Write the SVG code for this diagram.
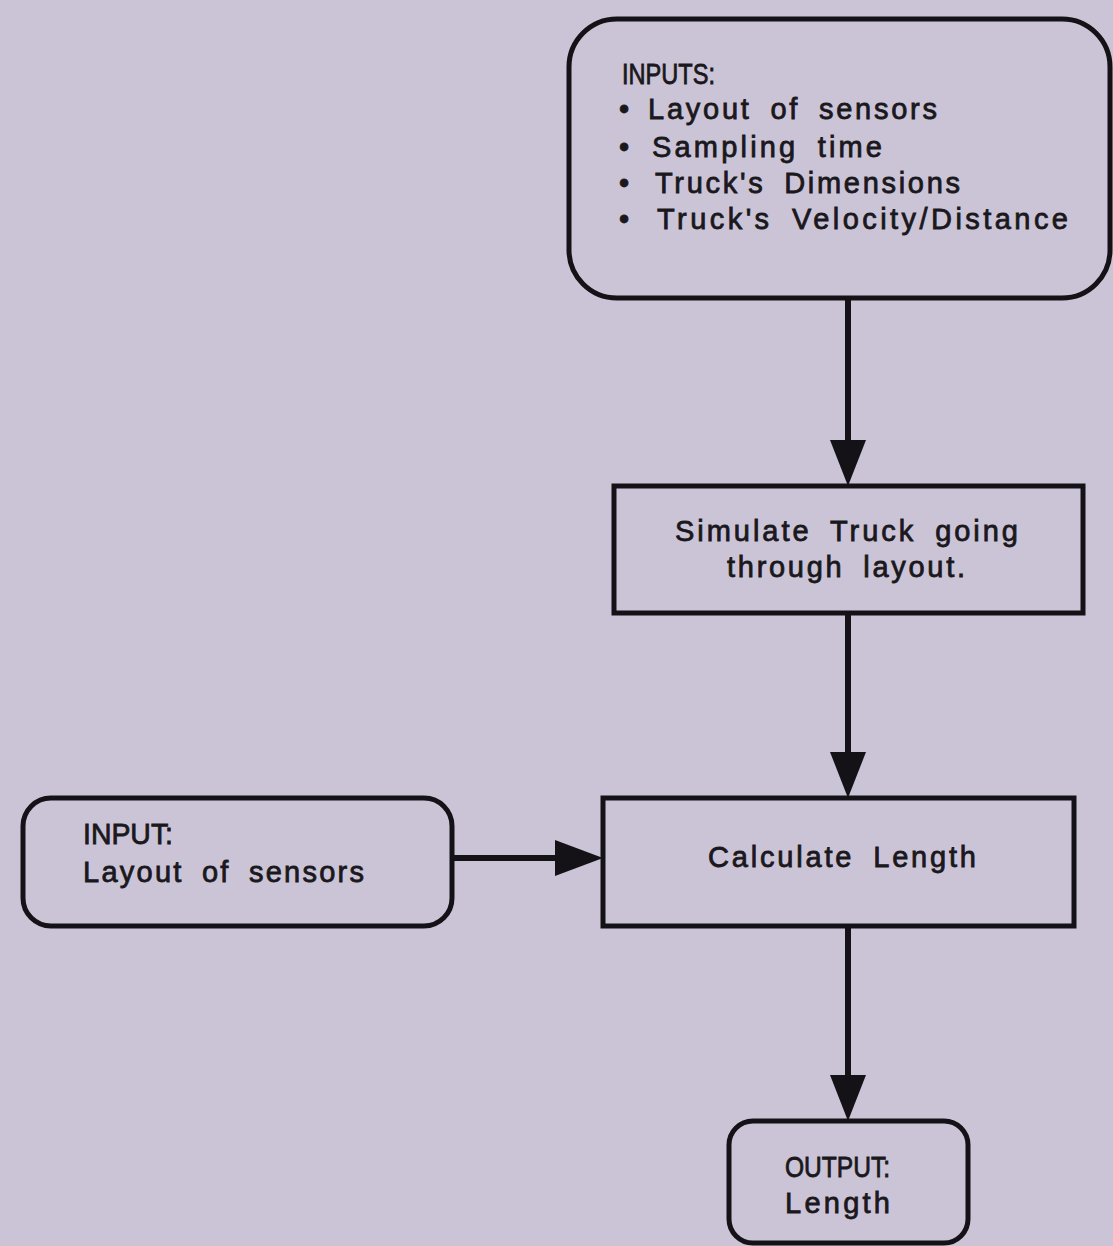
<svg xmlns="http://www.w3.org/2000/svg" width="1113" height="1246" viewBox="0 0 1113 1246">
<defs>
<style>
.box{fill:none;stroke:#141216;stroke-width:5}
.con{stroke:#141216;stroke-width:6;fill:none}
.head{fill:#141216}
text{font-family:"Liberation Sans",Arial,sans-serif;font-size:29px;fill:#1a181c;stroke:#1a181c;stroke-width:0.8;word-spacing:8px}
</style>
</defs>
<rect width="1113" height="1246" fill="#cbc4d6"/>
<g id="inputs">
<rect class="box" x="569" y="19" width="541" height="279" rx="48"/>
<text x="622" y="84" textLength="93" lengthAdjust="spacingAndGlyphs">INPUTS:</text>
<text x="619" y="119">•</text><text x="648" y="119" textLength="289" lengthAdjust="spacing">Layout of sensors</text>
<text x="619" y="157">•</text><text x="652" y="157" textLength="230" lengthAdjust="spacing">Sampling time</text>
<text x="619" y="193">•</text><text x="655" y="193" textLength="305" lengthAdjust="spacing">Truck's Dimensions</text>
<text x="619" y="229">•</text><text x="657" y="229" textLength="411" lengthAdjust="spacing">Truck's Velocity/Distance</text>
</g>
<g id="simulate">
<rect class="box" x="614" y="486" width="469" height="127"/>
<text x="675" y="541" textLength="343" lengthAdjust="spacing">Simulate Truck going</text>
<text x="727" y="577" textLength="238" lengthAdjust="spacing">through layout.</text>
</g>
<g id="input">
<rect class="box" x="23" y="798" width="429" height="128" rx="28"/>
<text x="83" y="844" textLength="90" lengthAdjust="spacingAndGlyphs">INPUT:</text>
<text x="83" y="882" textLength="281" lengthAdjust="spacing">Layout of sensors</text>
</g>
<g id="calculate">
<rect class="box" x="603" y="798" width="471" height="128"/>
<text x="708" y="867" textLength="268" lengthAdjust="spacing">Calculate Length</text>
</g>
<g id="output">
<rect class="box" x="729" y="1121" width="239" height="122" rx="24"/>
<text x="785" y="1177" textLength="105" lengthAdjust="spacingAndGlyphs">OUTPUT:</text>
<text x="785" y="1213" textLength="105" lengthAdjust="spacing">Length</text>
</g>
<g id="connectors">
<line class="con" x1="848" y1="298" x2="848" y2="445"/>
<polygon class="head" points="830,440 866,440 848,486"/>
<line class="con" x1="848" y1="613" x2="848" y2="757"/>
<polygon class="head" points="830,752 866,752 848,798"/>
<line class="con" x1="452" y1="858" x2="560" y2="858"/>
<polygon class="head" points="555,840 555,876 603,858"/>
<line class="con" x1="848" y1="926" x2="848" y2="1080"/>
<polygon class="head" points="830,1075 866,1075 848,1121"/>
</g>
</svg>
